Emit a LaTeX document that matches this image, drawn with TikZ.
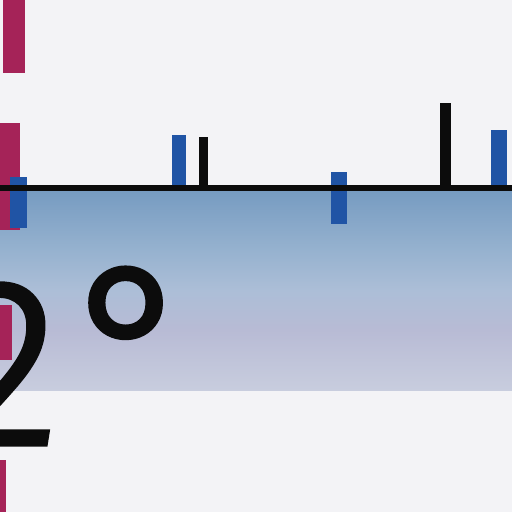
\documentclass[tikz,border=0pt]{standalone}
\usepackage{fontspec}
\newfontfamily\digitfont{Fira Sans Light}[RawFeature={embolden=2.1}]
\newfontfamily\degfont{Fira Sans Light}[RawFeature={embolden=2.4}]
\definecolor{bgc}{RGB}{243,243,246}
\definecolor{bandtop}{RGB}{118,155,193}
\definecolor{bandupper}{RGB}{150,178,207}
\definecolor{bandmid}{RGB}{172,190,215}
\definecolor{bandlav}{RGB}{184,187,213}
\definecolor{bandbot}{RGB}{200,205,222}
\definecolor{magbar}{RGB}{165,35,88}
\definecolor{bluebar}{RGB}{32,84,165}
\definecolor{inkc}{RGB}{12,12,12}
\pgfdeclareverticalshading{bandshade}{100bp}{color(0bp)=(bandbot); color(25bp)=(bandbot); color(40bp)=(bandlav); color(50bp)=(bandmid); color(60bp)=(bandupper); color(75bp)=(bandtop); color(100bp)=(bandtop)}
\tikzset{
  magfill/.style={fill=magbar},
  bluefill/.style={fill=bluebar},
  inkfill/.style={fill=inkc},
  digitstyle/.style={inner sep=0pt, text=inkc, font=\digitfont\fontsize{237}{237}\selectfont},
  degstyle/.style={inner sep=0pt, text=inkc, font=\degfont\fontsize{230}{230}\selectfont}
}
\begin{document}
\begin{tikzpicture}[x=1pt,y=-1pt]
\useasboundingbox (0,0) rectangle (512,512);
\fill[bgc] (0,0) rectangle (512,512);
\shade[shading=bandshade] (0,190) rectangle (512,390);
% magenta dashes
\fill[magfill] (3,0) rectangle (25,73);
\fill[magfill] (0,123) rectangle (20,230);
\fill[magfill] (0,305) rectangle (12,360);
\fill[magfill] (0,460) rectangle (6,512);
% blue bars
\fill[bluefill] (10,177) rectangle (27,228);
\fill[bluefill] (172,135) rectangle (186,189);
\fill[bluefill] (331,172) rectangle (347,224);
\fill[bluefill] (491,130) rectangle (507,189);
% black ticks
\fill[inkfill] (199,137) rectangle (208,189);
\fill[inkfill] (440,103) rectangle (451,189);
% baseline
\fill[inkfill] (0,185) rectangle (512,191);
% text
\node[digitstyle, anchor=base east] (two) at (60,444) {2};
\node[degstyle, anchor=north] (degree) at (135,268) {°};
\end{tikzpicture}
\end{document}
